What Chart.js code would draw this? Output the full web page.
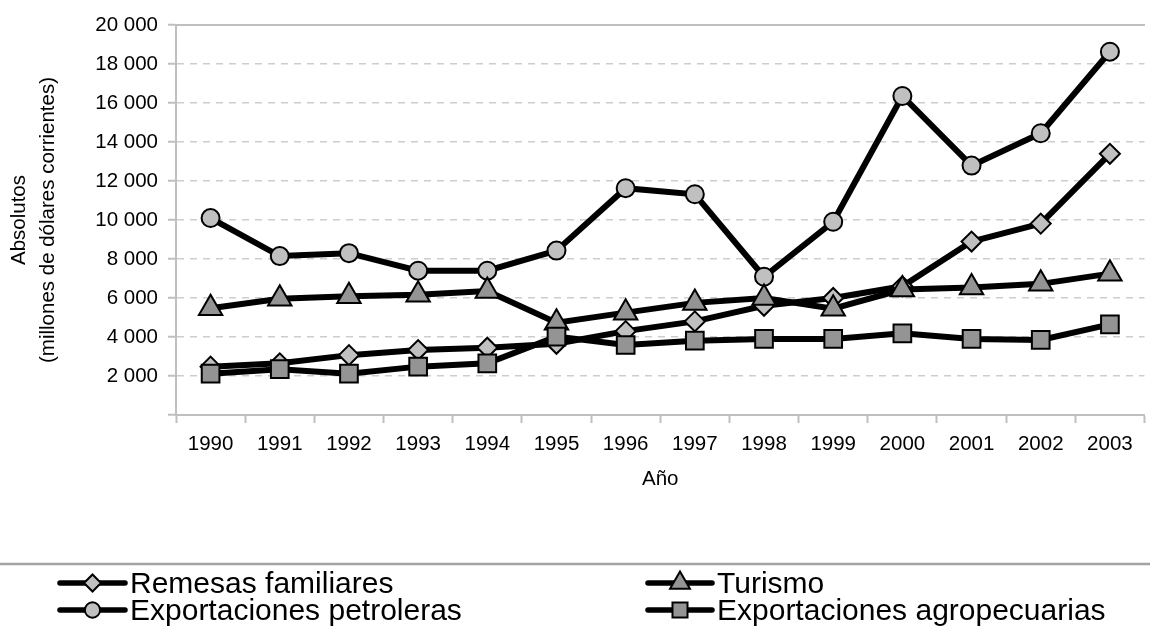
<!DOCTYPE html>
<html>
<head>
<meta charset="utf-8">
<script src="https://cdn.jsdelivr.net/npm/chart.js@4.4.0/dist/chart.umd.min.js"></script>
<style>
    html, body { margin: 0; padding: 0; background: #fff; overflow: hidden; }
    #wrap { position: relative; width: 1160px; height: 631px; }
</style>
</head>
<body>
<div id="wrap"><canvas id="lineChart"></canvas></div>
<script>
const years = ['1990', '1991', '1992', '1993', '1994', '1995', '1996', '1997', '1998', '1999', '2000', '2001', '2002', '2003'];
const remesas = [2480, 2650, 3070, 3330, 3450, 3650, 4300, 4800, 5600, 6000, 6600, 8895, 9815, 13395];
const turismo = [5470, 5960, 6085, 6170, 6360, 4730, 5250, 5750, 6000, 5450, 6435, 6540, 6725, 7250];
const petroleras = [10100, 8150, 8300, 7400, 7400, 8430, 11630, 11320, 7090, 9910, 16360, 12790, 14450, 18630];
const agropecuarias = [2120, 2350, 2120, 2480, 2650, 4020, 3590, 3810, 3900, 3900, 4190, 3900, 3850, 4650];
const seriesNames = ['Remesas familiares', 'Turismo', 'Exportaciones petroleras', 'Exportaciones agropecuarias'];
const yMin = 0;
const yMax = 20000;
const yStep = 2000;

const FONT = "'Liberation Sans', Arial, Helvetica, sans-serif";
const AXIS_GRAY = '#bfbfbf';

function fmt(v) {
    return String(v).replace(/\B(?=(\d{3})+(?!\d))/g, ' ');
}

// leyenda con línea + marcador, dos columnas
const legendPlugin = {
    id: 'bottomLegend',
    afterDraw(chart) {
        const ctx = chart.ctx;
        ctx.save();
        ctx.strokeStyle = '#a3a3a3';
        ctx.lineWidth = 2.5;
        ctx.beginPath();
        ctx.moveTo(0, 564);
        ctx.lineTo(chart.width, 564);
        ctx.stroke();

        const cols = [{x1: 60, x2: 125, tx: 130}, {x1: 648, x2: 712, tx: 717}];
        const rows = [583, 610];
        chart.data.datasets.forEach((ds, i) => {
            const c = cols[i % 2];
            const y = rows[Math.floor(i / 2)];
            ctx.setLineDash([]);
            ctx.strokeStyle = '#000';
            ctx.lineWidth = 5.5;
            ctx.lineCap = 'round';
            ctx.beginPath();
            ctx.moveTo(c.x1, y);
            ctx.lineTo(c.x2, y);
            ctx.stroke();

            ctx.lineCap = 'butt';
            ctx.lineWidth = 2;
            ctx.fillStyle = ds.pointBackgroundColor;
            ctx.strokeStyle = '#000';
            Chart.helpers.drawPoint(ctx, {
                pointStyle: ds.pointStyle,
                radius: ds.pointRadius * 0.85,
                borderWidth: 2,
                rotation: 0,
            }, (c.x1 + c.x2) / 2, y);

            ctx.fillStyle = '#000';
            ctx.font = '30px ' + FONT;
            ctx.textAlign = 'left';
            ctx.textBaseline = 'middle';
            ctx.fillText(ds.label, c.tx, y + 2);
        });
        ctx.restore();
    }
};

const ctx = document.getElementById('lineChart').getContext('2d');
new Chart(ctx, {
    type: 'line',
    data: {
        labels: years,
        datasets: [{
            label: seriesNames[0],
            data: remesas,
            order: 3,
            pointStyle: 'rectRot',
            pointRadius: 10,
            pointBackgroundColor: '#c0c0c0',
        }, {
            label: seriesNames[1],
            data: turismo,
            order: 2,
            pointStyle: 'triangle',
            pointRadius: 13.5,
            pointBackgroundColor: '#949494',
        }, {
            label: seriesNames[2],
            data: petroleras,
            order: 4,
            pointStyle: 'circle',
            pointRadius: 9,
            pointBackgroundColor: '#c0c0c0',
        }, {
            label: seriesNames[3],
            data: agropecuarias,
            order: 1,
            pointStyle: 'rect',
            pointRadius: 12.5,
            pointBackgroundColor: '#949494',
        }].map(d => Object.assign({
            borderColor: '#000',
            borderWidth: 6,
            pointBorderColor: '#000',
            pointBorderWidth: 2,
            pointHoverRadius: d.pointRadius,
            tension: 0,
            fill: false,
            clip: false,
        }, d)),
    },
    options: {
        responsive: true,
        maintainAspectRatio: false,
        animation: false,
        events: [],
        layout: {
            padding: {left: 0, right: 4, top: 25, bottom: 131},
        },
        plugins: {
            legend: {display: false},
            tooltip: {enabled: false},
        },
        scales: {
            x: {
                type: 'category',
                position: 'bottom',
                offset: true,
                afterFit: s => { s.height = 85; },
                grid: {
                    offset: true,
                    drawOnChartArea: false,
                    drawTicks: true,
                    tickLength: 8,
                    tickColor: AXIS_GRAY,
                    tickWidth: 2,
                },
                border: {display: true, color: AXIS_GRAY, width: 2},
                ticks: {
                    color: '#000',
                    padding: 9,
                    maxRotation: 0,
                    autoSkip: false,
                    font: {family: FONT, size: 20.5},
                },
                title: {
                    display: true,
                    text: 'Año',
                    color: '#000',
                    font: {family: FONT, size: 20.5},
                    padding: {top: 0, bottom: 8},
                },
            },
            xTop: {
                type: 'category',
                position: 'top',
                labels: years,
                offset: true,
                grid: {display: false, drawTicks: false},
                border: {display: true, color: AXIS_GRAY, width: 2},
                ticks: {display: false},
            },
            y: {
                min: yMin,
                max: yMax,
                afterFit: s => { s.width = 176; },
                grid: {
                    color: c => (c.tick.value === yMin || c.tick.value === yMax) ? 'rgba(0,0,0,0)' : '#cdcdcd',
                    lineWidth: 1.5,
                    drawTicks: true,
                    tickLength: 8,
                    tickColor: AXIS_GRAY,
                    tickWidth: 2,
                },
                border: {display: true, color: AXIS_GRAY, width: 2, dash: [7, 6]},
                ticks: {
                    stepSize: yStep,
                    color: '#000',
                    padding: 10,
                    font: {family: FONT, size: 20.5},
                    callback: v => v === 0 ? '' : fmt(v),
                },
                title: {
                    display: true,
                    text: ['Absolutos', '(millones de dólares corrientes)'],
                    color: '#000',
                    font: {family: FONT, size: 20.5, lineHeight: 1.4},
                    padding: {top: 5, bottom: 0},
                },
            },
        },
    },
    plugins: [legendPlugin],
});
</script>
</body>
</html>
